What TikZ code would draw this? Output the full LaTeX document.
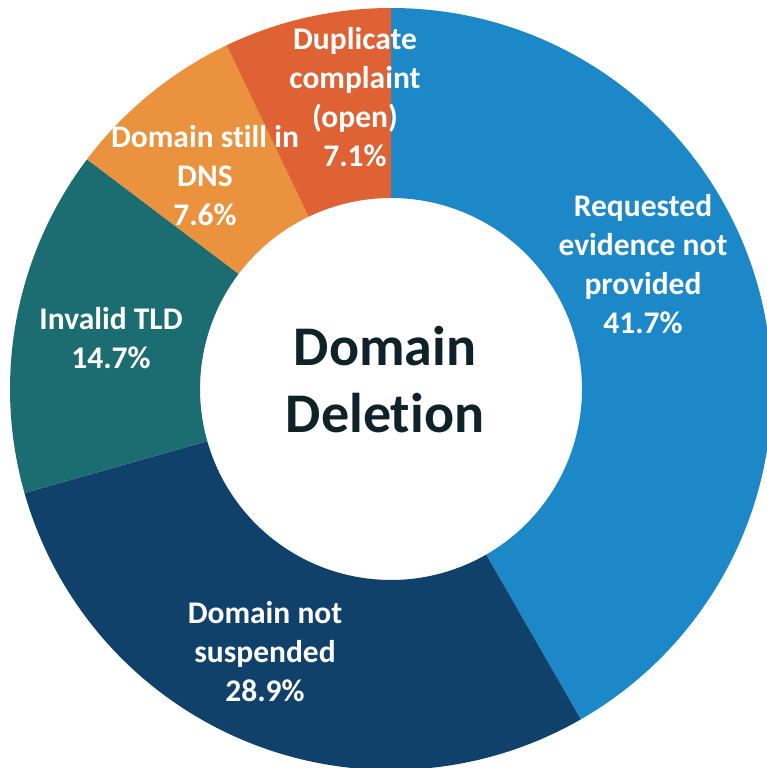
\documentclass[tikz,border=0pt]{standalone}
\usepackage{fontspec}
\setmainfont{Carlito}[Ligatures=NoCommon]
\usepackage{xcolor}
\usepackage{tikz}
\usetikzlibrary{positioning}
\definecolor{evidenceblue}{RGB}{29,136,200}
\definecolor{suspendnavy}{RGB}{16,65,107}
\definecolor{tldteal}{RGB}{28,109,113}
\definecolor{dnsorange}{RGB}{234,146,61}
\definecolor{dupred}{RGB}{222,98,52}
\definecolor{titleink}{RGB}{15,34,40}
\tikzstyle{slice} = [draw=none]
\tikzstyle{label} = [text=white, font=\fontsize{31.5}{39}\selectfont\bfseries,
                     align=center, inner sep=0pt]
\tikzstyle{title} = [text=titleink, font=\fontsize{56}{67}\selectfont\bfseries,
                     align=center, inner sep=0pt]

\begin{document}
\begin{tikzpicture}[x=1pt, y=1pt]
  \useasboundingbox (-391,-379) rectangle (376,389);
  \clip (-391,-379) rectangle (376,389);
  % Draw slices
  \fill [slice, evidenceblue] (90:381) arc (90:-60.12:381)
        -- (-60.12:191) arc (-60.12:90:191) -- cycle;
  \fill [slice, suspendnavy] (-60.12:381) arc (-60.12:-164.16:381)
        -- (-164.16:191) arc (-164.16:-60.12:191) -- cycle;
  \fill [slice, tldteal] (195.84:381) arc (195.84:142.92:381)
        -- (142.92:191) arc (142.92:195.84:191) -- cycle;
  \fill [slice, dnsorange] (142.92:381) arc (142.92:115.56:381)
        -- (115.56:191) arc (115.56:142.92:191) -- cycle;
  \fill [slice, dupred] (115.56:381) arc (115.56:90:381)
        -- (90:191) arc (90:115.56:191) -- cycle;
  % Place nodes
  \node [title] (center) at (-6,9) {Domain\\Deletion};
  \node [label] (evidence) at (252,125) {Requested\\evidence not\\provided\\41.7\%};
  \node [label] (suspended) at (-126,-263) {Domain not\\suspended\\28.9\%};
  \node [label] (tld) at (-280,51) {Invalid TLD\\14.7\%};
  \node [label] (dns) at (-186,213) {Domain still in\\DNS\\7.6\%};
  \node [label] (duplicate) at (-36,292) {Duplicate\\complaint\\(open)\\7.1\%};
\end{tikzpicture}
\end{document}
